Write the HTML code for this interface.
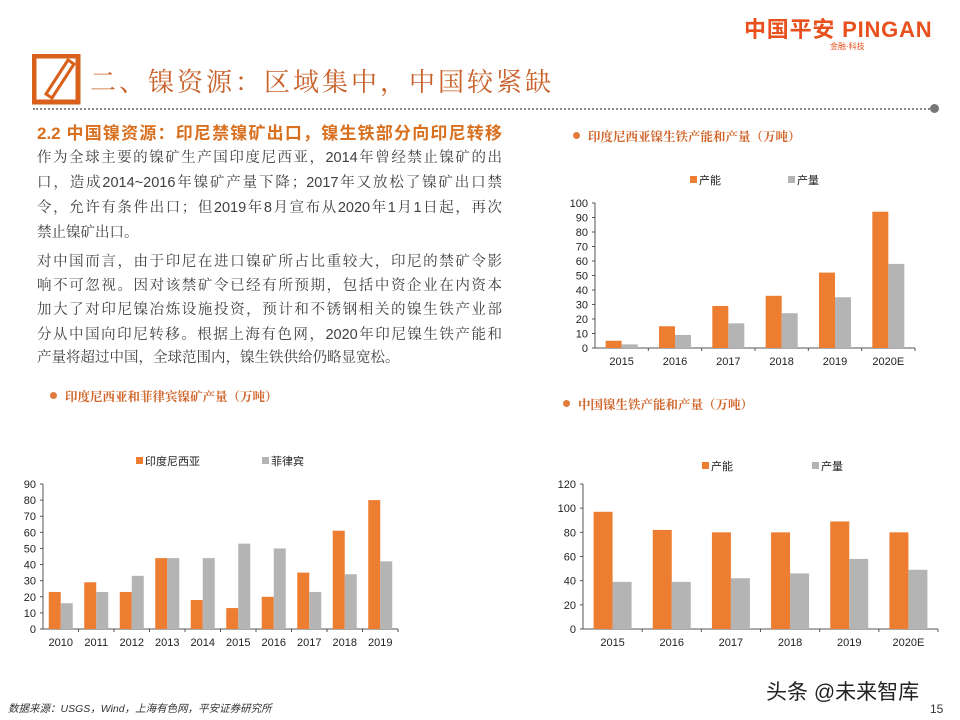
<!DOCTYPE html>
<html><head><meta charset="utf-8">
<style>
body{margin:0;background:#fff;}
#page{position:relative;width:960px;height:720px;overflow:hidden;background:#fff;font-family:"Liberation Sans","Noto Sans CJK SC",sans-serif;}
.ln{position:absolute;left:37px;width:465px;font-size:14.5px;color:#404040;line-height:20px;white-space:nowrap;font-family:"Liberation Sans","Noto Serif CJK SC",serif;}
.j{text-align:justify;text-align-last:justify;}
.ct{position:absolute;font-size:12.5px;font-weight:bold;color:#d0652a;font-family:"Liberation Sans","Noto Serif CJK SC",serif;white-space:nowrap;}
.ct:before{content:"";position:absolute;left:-15px;top:5px;width:7px;height:7px;border-radius:50%;background:#e07b39;}
svg text{font-family:"Liberation Sans","Noto Sans CJK SC",sans-serif;}
</style></head><body>
<div id="page">
  <div style="position:absolute;left:744px;top:12px;font-size:22px;font-weight:bold;color:#e8501e;white-space:nowrap;letter-spacing:0.8px;">中国平安 PINGAN</div>
  <div style="position:absolute;left:830px;top:41px;font-size:8px;color:#e8501e;">金融·科技</div>
  <svg style="position:absolute;left:32px;top:54px" width="50" height="52">
    <rect x="2" y="2" width="44" height="46" fill="none" stroke="#d9611c" stroke-width="5"/>
    <path d="M14 40 L36 6 L42 10 L20 44 Z" fill="#fff" stroke="#d9611c" stroke-width="3"/>
  </svg>
  <div style="position:absolute;left:90px;top:62px;font-size:26px;color:#c8602a;letter-spacing:3px;font-family:'Liberation Serif','Noto Serif CJK SC',serif;white-space:nowrap;">二、镍资源：区域集中，中国较紧缺</div>
  <div style="position:absolute;left:33px;top:108px;width:900px;border-top:2px dotted #888;"></div>
  <div style="position:absolute;left:930px;top:104px;width:9px;height:9px;border-radius:50%;background:#777;"></div>

  <div style="position:absolute;left:37px;top:119px;width:465px;font-size:17px;font-weight:bold;color:#d8701f;white-space:nowrap;text-align:justify;text-align-last:justify;">2.2 中国镍资源：印尼禁镍矿出口，镍生铁部分向印尼转移</div>
  <div class="ln j" style="top:148px">作为全球主要的镍矿生产国印度尼西亚，2014年曾经禁止镍矿的出</div>
  <div class="ln j" style="top:173px">口，造成2014~2016年镍矿产量下降；2017年又放松了镍矿出口禁</div>
  <div class="ln j" style="top:198px">令，允许有条件出口；但2019年8月宣布从2020年1月1日起，再次</div>
  <div class="ln" style="top:223px">禁止镍矿出口。</div>
  <div class="ln j" style="top:252px">对中国而言，由于印尼在进口镍矿所占比重较大，印尼的禁矿令影</div>
  <div class="ln j" style="top:276px">响不可忽视。因对该禁矿令已经有所预期，包括中资企业在内资本</div>
  <div class="ln j" style="top:300px">加大了对印尼镍冶炼设施投资，预计和不锈钢相关的镍生铁产业部</div>
  <div class="ln j" style="top:325px">分从中国向印尼转移。根据上海有色网，2020年印尼镍生铁产能和</div>
  <div class="ln" style="top:348px">产量将超过中国，全球范围内，镍生铁供给仍略显宽松。</div>

  <div class="ct" style="left:588px;top:127px">印度尼西亚镍生铁产能和产量（万吨）</div>
  <div class="ct" style="left:65px;top:387px">印度尼西亚和菲律宾镍矿产量（万吨）</div>
  <div class="ct" style="left:578px;top:395px">中国镍生铁产能和产量（万吨）</div>

  <svg id="charts" style="position:absolute;left:0;top:0" width="960" height="720"></svg>

  <div style="position:absolute;left:8px;top:701px;font-size:10.5px;font-style:italic;color:#333;white-space:nowrap;">数据来源：USGS，Wind，上海有色网，平安证券研究所</div>
  <div style="position:absolute;left:766px;top:676px;font-size:21px;color:#222;white-space:nowrap;">头条 @未来智库</div>
  <div style="position:absolute;left:930px;top:702px;font-size:12px;color:#333;">15</div>
</div>
<script>
// Chart 1: Indonesia NPI capacity & output
const c1Cats = ["2015","2016","2017","2018","2019","2020E"];
const c1Cap = [5,15,29,36,52,94];
const c1Out = [2.5,9,17,24,35,58];
const c1Ticks = [0,10,20,30,40,50,60,70,80,90,100];
// Chart 2: Indonesia & Philippines ore output
const c2Cats = ["2010","2011","2012","2013","2014","2015","2016","2017","2018","2019"];
const c2Ind = [23,29,23,44,18,13,20,35,61,80];
const c2Phi = [16,23,33,44,44,53,50,23,34,42];
const c2Ticks = [0,10,20,30,40,50,60,70,80,90];
// Chart 3: China NPI capacity & output
const c3Cats = ["2015","2016","2017","2018","2019","2020E"];
const c3Cap = [97,82,80,80,89,80];
const c3Out = [39,39,42,46,58,49];
const c3Ticks = [0,20,40,60,80,100,120];

const NS="http://www.w3.org/2000/svg";
const svg=document.getElementById('charts');
function mk(t,a,p){const e=document.createElementNS(NS,t);for(const k in a)e.setAttribute(k,a[k]);(p||svg).appendChild(e);return e;}
const OR="#ed7d31", GR="#b4b4b4";

function chart(id,g,cats,s1,s2,ticks,names){
  const grp=mk('g',{});
  
  
  const max=ticks[ticks.length-1];
  const y=v=>g.y0-(v/max)*(g.y0-g.yT);
  const cw=(g.x1-g.x0)/cats.length;
  const x=i=>g.x0+cw*i+cw/2;
  const ax=mk('line',{x1:g.x0,y1:g.yT,x2:g.x0,y2:g.y0,stroke:'#555','stroke-width':1},grp);
  
  
  const bx=mk('line',{x1:g.x0,y1:g.y0,x2:g.x1,y2:g.y0,stroke:'#555','stroke-width':1},grp);
  
  
  ticks.forEach(t=>{
    mk('line',{x1:g.x0-3,x2:g.x0,y1:y(t),y2:y(t),stroke:'#555'},grp);
    const tx=mk('text',{x:g.x0-7,y:y(t)+4,'text-anchor':'end','font-size':11,fill:'#222'},grp);
    tx.textContent=t;
    
    
  });
  cats.forEach((c,i)=>{
    mk('line',{x1:g.x0+cw*(i+1),x2:g.x0+cw*(i+1),y1:g.y0,y2:g.y0+3,stroke:'#555'},grp);
    const b1=mk('rect',{x:x(i)-g.bw,y:y(s1[i]),width:g.bw,height:g.y0-y(s1[i]),fill:OR},grp);
    
    
    const b2=mk('rect',{x:x(i),y:y(s2[i]),width:g.bw,height:g.y0-y(s2[i]),fill:GR},grp);
    
    
    const tx=mk('text',{x:x(i),y:g.y0+17,'text-anchor':'middle','font-size':11,fill:'#222'},grp);
    tx.textContent=c;
    
    
  });
  [[g.l1,OR,names[2]],[g.l2,GR,names[3]]].forEach(([lx,col,lab])=>{
    const r=mk('rect',{x:lx,y:g.ly-4,width:7,height:7,fill:col},grp);
    
    
    const t=mk('text',{x:lx+9,y:g.ly+4,'font-size':11,fill:'#222'},grp);
    t.textContent=lab;
    
    
  });
}
chart('chart-indonesia-npi',{x0:595,x1:915,y0:348,yT:203,bw:16,l1:690,l2:788,ly:180},c1Cats,c1Cap,c1Out,c1Ticks,['capacity','output','产能','产量']);
chart('chart-ore-output',{x0:43,x1:398,y0:629,yT:484,bw:12,l1:136,l2:262,ly:461},c2Cats,c2Ind,c2Phi,c2Ticks,['indonesia','philippines','印度尼西亚','菲律宾']);
chart('chart-china-npi',{x0:583,x1:938,y0:629,yT:484,bw:19,l1:702,l2:812,ly:466},c3Cats,c3Cap,c3Out,c3Ticks,['capacity','output','产能','产量']);
</script>
</body></html>
